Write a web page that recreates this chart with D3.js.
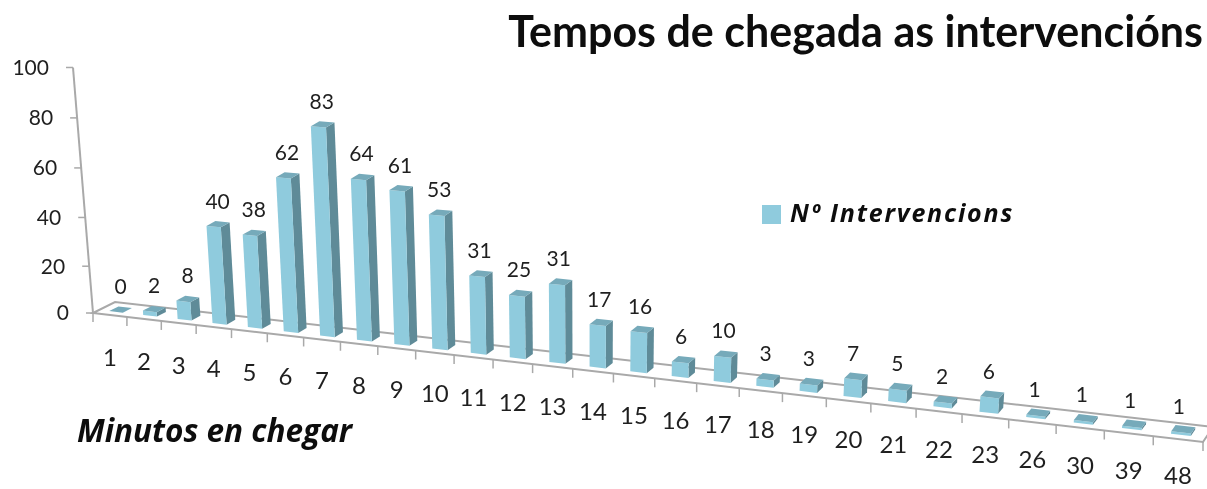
<!DOCTYPE html>
<html><head><meta charset="utf-8">
<script src="https://cdn.jsdelivr.net/npm/d3@7"></script>
<style>html,body{margin:0;padding:0;background:#fff}svg{display:block;filter:blur(0.45px)}</style>
</head><body><svg id="c" width="1207" height="489"></svg>
<script>
const categories = ["1","2","3","4","5","6","7","8","9","10","11","12","13","14","15","16","17","18","19","20","21","22","23","26","30","39","48"];
const values = [0,2,8,40,38,62,83,64,61,53,31,25,31,17,16,6,10,3,3,7,5,2,6,1,1,1,1];
const titleText = "Tempos de chegada as intervencións";
const seriesName = "Nº Intervencions";
const axisTitle = "Minutos en chegar";

const svg = d3.select("#c");
const FL=[93,313], FR=[1203,442], BL=[115,302], BR=[1213,427];
const K = 1.22;            // horizontal foreshortening
const VX = 590, VD = 6100; // convergence of the verticals

const xBand = d3.scaleBand().domain(categories).range([0,1]).paddingInner(0.6).paddingOuter(0.3);
const yH = d3.scalePow().exponent(1.03).domain([0,100]).range([0,248]);
const persp = u => u/(u+K*(1-u));
const growth = d3.scaleLinear().domain([0,1]).range([0.99,1.15]);
const labelGap = d3.scaleLinear().domain([0,1]).range([45,39]);
const labelShift = d3.scaleLinear().domain([0,1]).range([0,-4.5]);
const lerp = (a,b,t)=>[a[0]+(b[0]-a[0])*t, a[1]+(b[1]-a[1])*t];

function project(u,v,val){
  const t = persp(u);
  const p = lerp(lerp(FL,FR,t), lerp(BL,BR,t), v);
  const h = yH(val)*growth(t);
  return [p[0]+h*(p[0]-VX)/VD, p[1]-h];
}
const poly = pts => pts.map(p=>p.map(n=>n.toFixed(2)).join(",")).join(" ");
const GRID="#a9a9a9", FRONT="#8fcbdd", SIDE="#5f8b98", TOPC="#76aaba", TXT="#1f1f1f";

// floor
svg.append("polygon").attr("points",poly([project(0,0,0),project(1,0,0),project(1,1,0),project(0,1,0)]))
  .attr("fill","#fff").attr("stroke",GRID).attr("stroke-width",2);

// x ticks
const step = 1/categories.length;
d3.range(categories.length+1).forEach(i=>{
  const a = project(i*step,0,0);
  svg.append("line").attr("x1",a[0]).attr("y1",a[1]).attr("x2",a[0]).attr("y2",a[1]+9)
    .attr("stroke",GRID).attr("stroke-width",1.5);
});

// y axis
const axisTop = project(0,0,100), zero = project(0,0,0);
svg.append("line").attr("x1",zero[0]).attr("y1",zero[1]).attr("x2",axisTop[0]).attr("y2",axisTop[1])
  .attr("stroke",GRID).attr("stroke-width",2);
yH.ticks(5).forEach(v=>{
  const p = project(0,0,v);
  svg.append("line").attr("x1",p[0]-7).attr("y1",p[1]).attr("x2",p[0]).attr("y2",p[1])
    .attr("stroke",GRID).attr("stroke-width",1.5);
  svg.append("text").attr("x",p[0]-24).attr("y",p[1]+2)
    .attr("text-anchor","end").attr("dominant-baseline","middle")
    .attr("font-family","Lato").attr("font-size",21).attr("fill",TXT).text(v);
});

// bars
const V0=0.28, V1=0.70;
const bars = svg.append("g").selectAll("g").data(categories).join("g");
bars.each(function(c,i){
  const g=d3.select(this), val=values[i];
  const u0=xBand(c), u1=u0+xBand.bandwidth();
  const a=project(u0,V0,0), b=project(u1,V0,0), c1=project(u1,V0,val), d=project(u0,V0,val);
  const e=project(u1,V1,0), f=project(u1,V1,val), h=project(u0,V1,val);
  g.append("polygon").attr("points",poly([b,e,f,c1])).attr("fill",SIDE);
  g.append("polygon").attr("points",poly([a,b,c1,d])).attr("fill",FRONT);
  g.append("polygon").attr("points",poly([d,c1,f,h])).attr("fill",TOPC);
  const m=project(u0+xBand.bandwidth()/2,(V0+V1)/2,val);
  g.append("text").attr("x",m[0]+labelShift(persp(u0))).attr("y",m[1]-21).attr("text-anchor","middle")
    .attr("dominant-baseline","middle").attr("font-family","Lato").attr("font-size",21)
    .attr("fill",TXT).text(values[i]);
  const lab=project(u0+xBand.bandwidth()/2,0,0);
  g.append("text").attr("x",lab[0]).attr("y",lab[1]+labelGap(persp(u0))).attr("text-anchor","middle")
    .attr("dominant-baseline","middle").attr("font-family","Lato").attr("font-size",24)
    .attr("fill",TXT).text(c);
});

// titles
svg.append("text").attr("x",1203).attr("y",47).attr("text-anchor","end")
  .attr("font-family","Lato").attr("font-weight",700).attr("font-size",43)
  .attr("fill","#0d0d0d").text(titleText);
svg.append("text").attr("x",77).attr("y",442)
  .attr("font-family","Open Sans").attr("font-weight",700).attr("font-style","italic").attr("font-size",31.5)
  .attr("fill","#0d0d0d").text(axisTitle);
// legend
svg.append("rect").attr("x",762).attr("y",205).attr("width",19).attr("height",19).attr("fill",FRONT);
svg.append("text").attr("x",790).attr("y",222)
  .attr("font-family","Open Sans").attr("font-weight",700).attr("font-style","italic").attr("font-size",25)
  .attr("letter-spacing",1.8).attr("fill","#0d0d0d").text(seriesName);
</script></body></html>
